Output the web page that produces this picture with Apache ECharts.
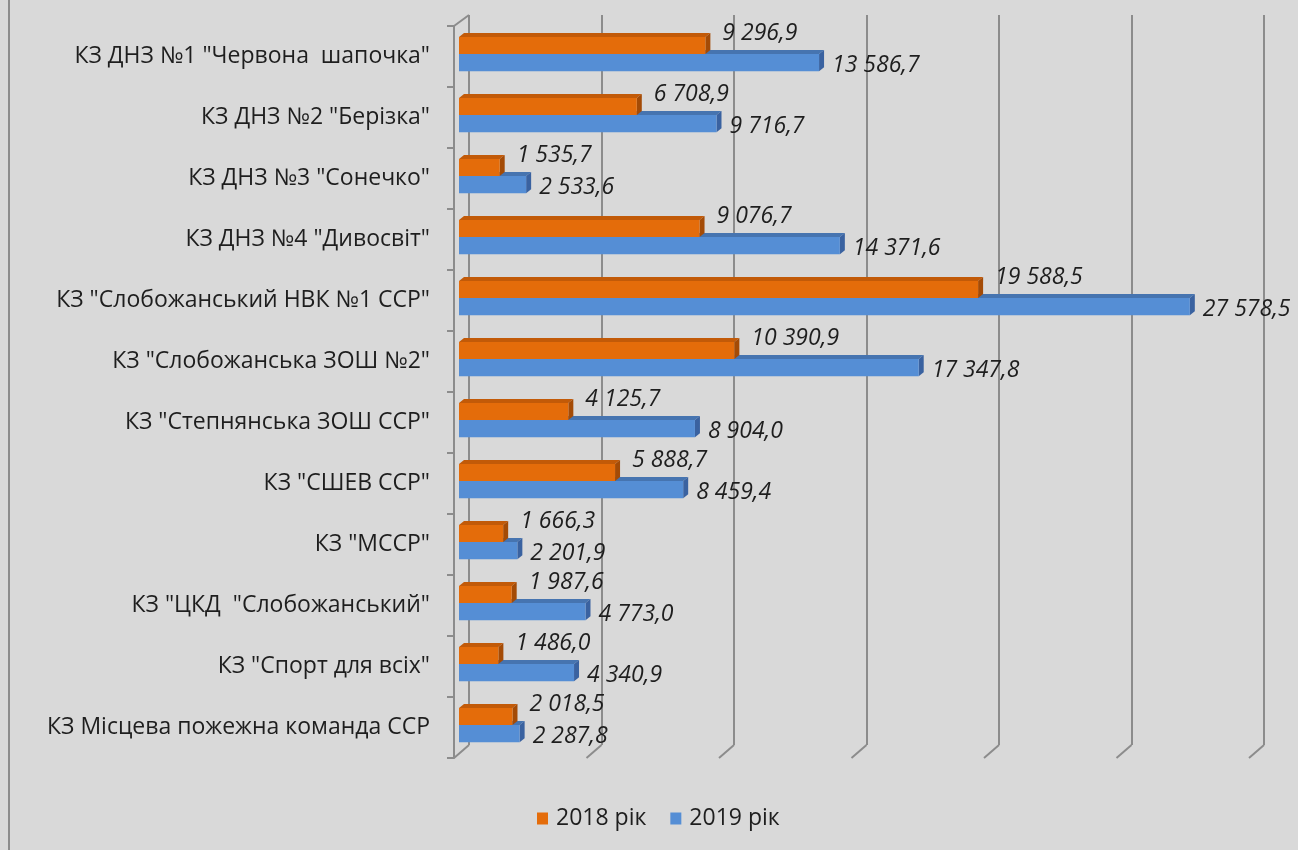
<!DOCTYPE html>
<html>
<head>
<meta charset="utf-8">
<script src="https://cdn.jsdelivr.net/npm/echarts@6/dist/echarts.min.js"></script>
<style>
html,body{margin:0;padding:0;background:#d9d9d9;}
#chart{width:1298px;height:850px;}
</style>
</head>
<body>
<div id="chart"></div>
<script>
const categories = [
  'КЗ ДНЗ №1 "Червона  шапочка"',
  'КЗ ДНЗ №2 "Берізка"',
  'КЗ ДНЗ №3 "Сонечко"',
  'КЗ ДНЗ №4 "Дивосвіт"',
  'КЗ "Слобожанський НВК №1 ССР"',
  'КЗ "Слобожанська ЗОШ №2"',
  'КЗ "Степнянська ЗОШ ССР"',
  'КЗ "СШЕВ ССР"',
  'КЗ "МССР"',
  'КЗ "ЦКД  "Слобожанський"',
  'КЗ "Спорт для всіх"',
  'КЗ Місцева пожежна команда ССР'
];
const values2018 = [9296.9, 6708.9, 1535.7, 9076.7, 19588.5, 10390.9, 4125.7, 5888.7, 1666.3, 1987.6, 1486.0, 2018.5];
const values2019 = [13586.7, 9716.7, 2533.6, 14371.6, 27578.5, 17347.8, 8904.0, 8459.4, 2201.9, 4773.0, 4340.9, 2287.8];
const xTicks = [0, 5000, 10000, 15000, 20000, 25000, 30000];
const seriesNames = ['2018 рік', '2019 рік'];

const FONT = '"Open Sans", "Liberation Sans", sans-serif';
const GRID_COLOR = '#8c8c8c';

function fmt(v) {
  const s = v.toFixed(1);
  const [ip, dp] = s.split('.');
  return ip.replace(/\B(?=(\d{3})+(?!\d))/g, ' ') + ',' + dp;
}

const palette = [
  {front: '#e46c0a', top: '#c25a08', side: '#a44b06'},
  {front: '#558ed5', top: '#4674b0', side: '#3a62a0'}
];

function makeBarRender(which) {
  return function (params, api) {
    const v = api.value(0), c = api.value(1);
    const base = api.coord([0, c]);
    const end = api.coord([v, c]);
    const band = api.size([0, 1])[1];
    const h = band * 0.28;
    const mid = base[1] - band * 0.04;
    const yTop = which === 0 ? mid - h : mid;
    const yBot = yTop + h;
    const x0 = base[0] + 5, x1 = end[0] + 5;
    const dx = 5, dy = 4;
    const col = palette[which];
    const yc = (yTop + yBot) / 2;
    return {
      type: 'group',
      children: [
        {type: 'polygon', shape: {points: [[x0, yTop], [x1, yTop], [x1 + dx, yTop - dy], [x0 + dx, yTop - dy]]},
          style: {fill: col.top}},
        {type: 'polygon', shape: {points: [[x1, yTop], [x1 + dx, yTop - dy], [x1 + dx, yBot - dy], [x1, yBot]]},
          style: {fill: col.side}},
        {type: 'rect', shape: {x: x0, y: yTop, width: x1 - x0, height: h},
          style: {fill: col.front}},
        {type: 'text', style: {
          text: fmt(v),
          x: x1 + (which === 0 ? 17 : 13),
          y: yc + (which === 0 ? -12 : 3),
          align: 'left', verticalAlign: 'middle',
          font: 'italic 23px ' + FONT,
          fill: '#1e1e1e'
        }, z2: 10}
      ]
    };
  };
}

function gridFeetRender(params, api) {
  const v = api.value(0);
  const cs = params.coordSys;
  const p = api.coord([v, 0]);
  const bottom = cs.y + cs.height;
  const children = [
    {type: 'line', shape: {x1: p[0], y1: bottom, x2: p[0] - 15, y2: bottom + 13},
      style: {stroke: GRID_COLOR, lineWidth: 2}}
  ];
  if (v === 0) {
    children.push({type: 'line', shape: {x1: p[0], y1: cs.y, x2: p[0] - 15, y2: cs.y + 11},
      style: {stroke: GRID_COLOR, lineWidth: 2}});
  }
  return {type: 'group', children};
}

const chart = echarts.init(document.getElementById('chart'), null, {renderer: 'canvas'});
chart.setOption({
  backgroundColor: '#d9d9d9',
  animation: false,
  graphic: [
    {type: 'rect', shape: {x: 8, y: 0, width: 2, height: 850}, style: {fill: '#8c8c8c'}, silent: true}
  ],
  legend: {
    data: [{name: seriesNames[0], icon: 'rect'}, {name: seriesNames[1], icon: 'rect'}],
    left: 537, top: 807, padding: 0,
    itemWidth: 11, itemHeight: 12, itemGap: 24,
    textStyle: {fontFamily: FONT, fontSize: 23, color: '#1e1e1e', padding: [0, 0, 0, 3]}
  },
  grid: [
    {left: 469, top: 15, width: 795, height: 730},
    {left: 454, top: 26, width: 795, height: 732}
  ],
  xAxis: [
    {type: 'value', gridIndex: 0, min: 0, max: 30000, interval: 5000,
      axisLabel: {show: false}, axisTick: {show: false}, axisLine: {show: false},
      splitLine: {show: true, lineStyle: {color: GRID_COLOR, width: 2}}},
    {type: 'value', gridIndex: 1, min: 0, max: 30000, interval: 5000,
      axisLabel: {show: false}, axisTick: {show: false}, axisLine: {show: false},
      splitLine: {show: false}}
  ],
  yAxis: [
    {type: 'category', gridIndex: 0, data: categories, inverse: true,
      axisLabel: {show: false}, axisTick: {show: false}, axisLine: {show: false}, splitLine: {show: false}},
    {type: 'category', gridIndex: 1, data: categories, inverse: true,
      axisLine: {show: true, lineStyle: {color: GRID_COLOR, width: 2}},
      axisTick: {show: true, length: 7, lineStyle: {color: GRID_COLOR, width: 2}},
      axisLabel: {margin: 24, fontFamily: FONT, fontSize: 23, color: '#1e1e1e', padding: [3, 0, 0, 0]}}
  ],
  series: [
    {type: 'custom', name: 'feet', xAxisIndex: 0, yAxisIndex: 0, renderItem: gridFeetRender,
      data: xTicks.map(t => [t]), encode: {x: 0}, silent: true, z: 1},
    {type: 'custom', name: seriesNames[1], xAxisIndex: 1, yAxisIndex: 1,
      renderItem: makeBarRender(1), itemStyle: {color: palette[1].front},
      data: values2019.map((v, i) => [v, i]), encode: {x: 0, y: 1}, z: 2},
    {type: 'custom', name: seriesNames[0], xAxisIndex: 1, yAxisIndex: 1,
      renderItem: makeBarRender(0), itemStyle: {color: palette[0].front},
      data: values2018.map((v, i) => [v, i]), encode: {x: 0, y: 1}, z: 3}
  ]
});
</script>
</body>
</html>
